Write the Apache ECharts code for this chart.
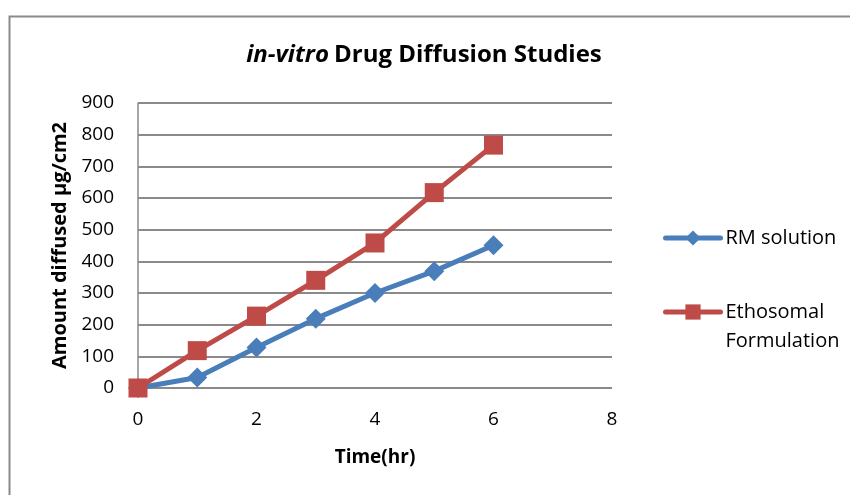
<!DOCTYPE html>
<html>
<head>
<meta charset="utf-8">
<script src="https://cdn.jsdelivr.net/npm/echarts@6/dist/echarts.min.js"></script>
<style>
html,body{margin:0;padding:0;background:#fff;}
#chart{width:850px;height:495px;}
</style>
</head>
<body>
<div id="chart"></div>
<script>
const timeHr = [0, 1, 2, 3, 4, 5, 6];
const rmSolution = [0, 33, 128, 219, 300, 369, 451];
const ethosomal = [0, 118, 227, 340, 458, 617, 767];
const seriesNames = ['RM solution', 'Ethosomal Formulation'];
const titleItalic = 'in-vitro';
const titleRest = 'Drug Diffusion Studies';
const xName = 'Time(hr)';
const yName = 'Amount diffused µg/cm2';

const FONT = '"Open Sans", Lato, sans-serif';
const chart = echarts.init(document.getElementById('chart'), null, {renderer: 'canvas'});

const legendText = {fontFamily: FONT, fontSize: 20, color: '#000', lineHeight: 29};
const legendLine = {width: 5, cap: 'round'};

chart.setOption({
  animation: false,
  backgroundColor: '#fff',
  graphic: [{
    type: 'rect', left: 7, top: 14, z: -1,
    shape: {width: 900, height: 600},
    style: {fill: 'none', stroke: '#8a8a8a', lineWidth: 2}
  }],
  title: {
    text: '{i|' + titleItalic + '} {b|' + titleRest + '}',
    left: 419, top: 38, textAlign: 'center',
    textStyle: {
      rich: {
        i: {fontFamily: FONT, fontSize: 24, fontWeight: 'bold', fontStyle: 'italic', color: '#000'},
        b: {fontFamily: FONT, fontSize: 24, fontWeight: 'bold', color: '#000'}
      }
    }
  },
  legend: [{
    data: [seriesNames[0]],
    orient: 'vertical', left: 658, top: 218.5,
    itemWidth: 55, itemHeight: 19,
    lineStyle: legendLine,
    textStyle: legendText
  }, {
    data: [seriesNames[1]],
    orient: 'vertical', left: 658, top: 263.5,
    itemWidth: 55, itemHeight: 19,
    lineStyle: legendLine,
    formatter: function (n) { return ' \n' + n.replace(' ', '\n'); },
    textStyle: legendText
  }],
  grid: {left: 138, right: 238, top: 103, bottom: 107, containLabel: false},
  xAxis: {
    type: 'value', min: 0, max: 8, interval: 2,
    name: xName, nameLocation: 'middle', nameGap: 60,
    nameTextStyle: {fontFamily: FONT, fontSize: 19, fontWeight: 'bold', color: '#000'},
    axisLine: {show: false},
    axisTick: {show: false},
    splitLine: {show: false},
    axisLabel: {fontFamily: FONT, fontSize: 19, color: '#000', margin: 22}
  },
  yAxis: {
    type: 'value', min: 0, max: 900, interval: 100,
    name: yName, nameLocation: 'middle', nameGap: 63,
    nameTextStyle: {fontFamily: FONT, fontSize: 20, fontWeight: 'bold', color: '#000'},
    axisLine: {show: true, lineStyle: {color: '#8a8a8a', width: 1.5}},
    axisTick: {show: false},
    splitLine: {show: true, lineStyle: {color: '#8a8a8a', width: 1.8}},
    axisLabel: {fontFamily: FONT, fontSize: 19, color: '#000', margin: 24}
  },
  series: [{
    name: seriesNames[0], type: 'line',
    data: timeHr.map((t, i) => [t, rmSolution[i]]),
    symbol: 'diamond', symbolSize: 20,
    lineStyle: {color: '#4A7EBB', width: 5},
    itemStyle: {color: '#4A7EBB'},
    z: 3
  }, {
    name: seriesNames[1], type: 'line',
    data: timeHr.map((t, i) => [t, ethosomal[i]]),
    symbol: 'rect', symbolSize: 19,
    lineStyle: {color: '#BE4B48', width: 5},
    itemStyle: {color: '#BE4B48'},
    z: 4
  }]
});
</script>
</body>
</html>
